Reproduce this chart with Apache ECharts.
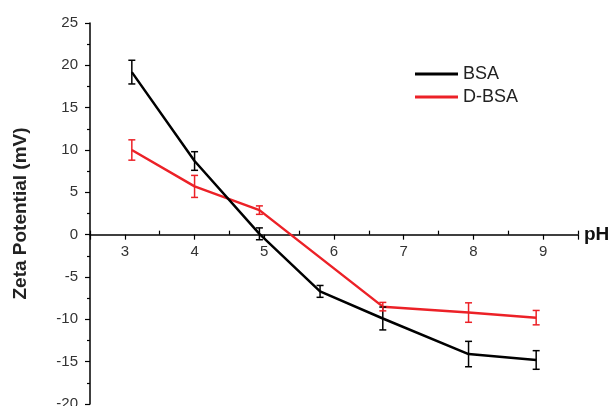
<!DOCTYPE html>
<html>
<head>
<meta charset="utf-8">
<script src="https://cdn.jsdelivr.net/npm/echarts@6/dist/echarts.min.js"></script>
<style>
  html, body { margin: 0; padding: 0; background: #fff; }
  #chart { width: 613px; height: 406px; }
</style>
</head>
<body>
<div id="chart"></div>
<script>
// zeta potential vs pH
const phBSA = [3.1, 4.0, 4.93, 5.8, 6.7, 7.93, 8.9];
const zetaBSA = [19.2, 8.7, 0.1, -6.7, -9.9, -14.1, -14.8];
const errBSA = [1.4, 1.1, 0.7, 0.7, 1.35, 1.5, 1.1];

const phDBSA = [3.1, 4.0, 4.93, 6.7, 7.93, 8.9];
const zetaDBSA = [10.0, 5.7, 2.9, -8.5, -9.2, -9.8];
const errDBSA = [1.2, 1.3, 0.5, 0.5, 1.15, 0.85];

const seriesNames = ['BSA', 'D-BSA'];
const seriesColors = ['#000000', '#ec2127'];

const font = 'Liberation Sans, Arial, sans-serif';

// plot box
const gridTop = 23, gridBottom = 2, yMin = -20, yMax = 25;
const plotH = 406 - gridTop - gridBottom;
// second grid ends where y = 0, so the pH axis sits on the zero line
const zeroH = plotH * yMax / (yMax - yMin);

function pairs(xs, ys) {
  return xs.map((x, i) => [x, ys[i]]);
}

function triples(xs, ys, es) {
  return xs.map((x, i) => [x, ys[i], es[i]]);
}

// vertical error bar with small caps
function errorBar(color) {
  return function (params, api) {
    const x = api.value(0);
    const y = api.value(1);
    const e = api.value(2);
    const t = api.coord([x, y + e]);
    const b = api.coord([x, y - e]);
    const half = 3.5;
    const style = { stroke: color, lineWidth: 1.5 };
    return {
      type: 'group',
      children: [
        { type: 'line', shape: { x1: t[0], y1: t[1], x2: b[0], y2: b[1] }, style: style },
        { type: 'line', shape: { x1: t[0] - half, y1: t[1], x2: t[0] + half, y2: t[1] }, style: style },
        { type: 'line', shape: { x1: b[0] - half, y1: b[1], x2: b[0] + half, y2: b[1] }, style: style }
      ]
    };
  };
}

const chart = echarts.init(document.getElementById('chart'));

const option = {
  backgroundColor: '#ffffff',
  animation: false,
  textStyle: { fontFamily: font },
  grid: [
    { left: 90, right: 35, top: gridTop, bottom: gridBottom, outerBoundsMode: 'none', containLabel: false },
    { left: 90, right: 35, top: gridTop, height: zeroH, outerBoundsMode: 'none', containLabel: false }
  ],
  legend: {
    data: seriesNames,
    orient: 'vertical',
    left: 410,
    top: 60,
    icon: 'rect',
    itemWidth: 43,
    itemHeight: 3,
    itemGap: 5,
    textStyle: { fontSize: 18, color: '#222', fontFamily: font }
  },
  xAxis: [{
    // data axis, hidden
    gridIndex: 0,
    type: 'value',
    min: 2.5,
    max: 9.5,
    show: false
  }, {
    gridIndex: 1,
    type: 'value',
    min: 2.5,
    max: 9.5,
    splitNumber: 7,
    position: 'bottom',
    name: 'pH',
    nameLocation: 'end',
    nameGap: 6,
    nameTextStyle: { fontSize: 19, fontWeight: 'bold', color: '#111', fontFamily: font },
    axisLine: { onZero: false, lineStyle: { color: '#000', width: 1.5 } },
    axisTick: { show: true, length: 5, lineStyle: { color: '#000', width: 1.2 } },
    axisLabel: {
      fontSize: 15,
      color: '#333',
      margin: 10,
      formatter: v => (Number.isInteger(v) ? String(v) : '')
    },
    splitLine: { show: false }
  }, {
    // half-unit ticks pointing up, as in the figure
    gridIndex: 1,
    type: 'value',
    min: 2.5,
    max: 9.5,
    interval: 1,
    position: 'bottom',
    axisLine: { show: false, onZero: false },
    axisTick: { show: true, inside: true, length: 4, lineStyle: { color: '#000', width: 1.2 } },
    axisLabel: { show: false },
    splitLine: { show: false }
  }],
  yAxis: [{
    gridIndex: 0,
    type: 'value',
    min: yMin,
    max: yMax,
    interval: 5,
    name: 'Zeta Potential (mV)',
    nameLocation: 'middle',
    nameRotate: 90,
    nameGap: 60,
    nameTextStyle: { fontSize: 19, fontWeight: 'bold', color: '#222', fontFamily: font },
    axisLine: { show: true, onZero: false, lineStyle: { color: '#000', width: 1.5 } },
    axisTick: { show: true, length: 5, lineStyle: { color: '#000', width: 1.2 } },
    minorTick: { show: true, splitNumber: 2, length: 3, lineStyle: { color: '#000', width: 1.2 } },
    axisLabel: { fontSize: 15, color: '#333', margin: 12 },
    splitLine: { show: false }
  }, {
    gridIndex: 1,
    type: 'value',
    min: 0,
    max: yMax,
    show: false
  }],
  series: [{
    name: 'BSA',
    type: 'line',
    xAxisIndex: 0,
    yAxisIndex: 0,
    data: pairs(phBSA, zetaBSA),
    showSymbol: false,
    color: seriesColors[0],
    lineStyle: { width: 2.5, color: seriesColors[0] },
    z: 3
  }, {
    name: 'D-BSA',
    type: 'line',
    xAxisIndex: 0,
    yAxisIndex: 0,
    data: pairs(phDBSA, zetaDBSA),
    showSymbol: false,
    color: seriesColors[1],
    lineStyle: { width: 2.5, color: seriesColors[1] },
    z: 2
  }, {
    name: 'BSA err',
    type: 'custom',
    xAxisIndex: 0,
    yAxisIndex: 0,
    data: triples(phBSA, zetaBSA, errBSA),
    renderItem: errorBar(seriesColors[0]),
    encode: { x: 0, y: 1 },
    z: 4
  }, {
    name: 'D-BSA err',
    type: 'custom',
    xAxisIndex: 0,
    yAxisIndex: 0,
    data: triples(phDBSA, zetaDBSA, errDBSA),
    renderItem: errorBar(seriesColors[1]),
    encode: { x: 0, y: 1 },
    z: 4
  }]
};

chart.setOption(option);
</script>
</body>
</html>
